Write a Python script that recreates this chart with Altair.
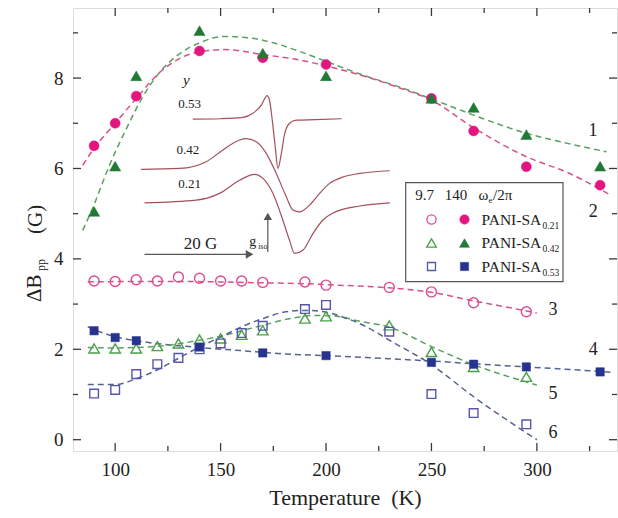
import altair as alt
import pandas as pd

# ---------------- measured line widths ----------------
# temperatures (K)
T_140 = [90, 100, 110, 140, 170, 200, 250, 270, 295, 330]
T_97 = [90, 100, 110, 120, 130, 140, 150, 160, 170, 190, 200, 230, 250, 270, 295]

# ΔB_pp (G) at 140 GHz (filled symbols)
dB140_021 = [6.50, 7.00, 7.60, 8.60, 8.45, 8.30, 7.55, 6.83, 6.04, 5.63]
dB140_042 = [5.05, 6.05, 8.05, 9.05, 8.55, 8.05, 7.55, 7.35, 6.75, 6.05]
dB140_053 = [2.41, 2.26, 2.19, 2.05, 1.92, 1.86, 1.71, 1.67, 1.61, 1.50]

# ΔB_pp (G) at 9.7 GHz (open symbols)
dB97_021 = [3.51, 3.50, 3.54, 3.51, 3.60, 3.57, 3.51, 3.51, 3.48, 3.49, 3.42, 3.37, 3.27, 3.03, 2.83]
dB97_042 = [2.02, 2.02, 2.02, 2.07, 2.13, 2.22, 2.24, 2.32, 2.42, 2.68, 2.73, 2.53, 1.94, 1.61, 1.39]
dB97_053 = [1.02, 1.10, 1.45, 1.67, 1.81, 2.00, 2.13, 2.36, 2.52, 2.89, 2.98, 2.39, 1.01, 0.59, 0.34]

# ---------------- fitted curves 1-6 ----------------
fit1_T = [84.6, 90, 97, 105, 113, 121, 130, 140, 152, 165, 175, 185, 200, 216, 235, 250, 270, 295, 315, 333]
fit1_v = [4.63, 5.20, 6.04, 6.85, 7.58, 8.12, 8.52, 8.78, 8.92, 8.88, 8.78, 8.63, 8.37, 8.09, 7.80, 7.54, 7.18, 6.78, 6.55, 6.37]

fit2_T = [84.6, 90, 100, 110, 121, 130, 140, 152, 170, 185, 200, 219, 235, 250, 270, 295, 315, 335]
fit2_v = [6.07, 6.45, 7.00, 7.55, 8.12, 8.42, 8.58, 8.63, 8.52, 8.42, 8.27, 8.03, 7.78, 7.51, 6.90, 6.26, 5.90, 5.41]

fit3_T = [87, 110, 130, 150, 170, 190, 200, 215, 230, 250, 270, 285, 300]
fit3_v = [3.49, 3.50, 3.50, 3.49, 3.47, 3.45, 3.43, 3.40, 3.36, 3.26, 3.07, 2.94, 2.80]

fit4_T = [87, 95, 100, 110, 125, 140, 160, 180, 200, 230, 250, 270, 295, 320, 336]
fit4_v = [2.50, 2.35, 2.28, 2.19, 2.10, 2.04, 1.97, 1.90, 1.86, 1.79, 1.74, 1.68, 1.61, 1.54, 1.49]

fit5_T = [87, 100, 121, 140, 150, 160, 170, 184, 195, 205, 216, 230, 250, 270, 300]
fit5_v = [2.04, 2.03, 2.07, 2.20, 2.29, 2.41, 2.53, 2.69, 2.75, 2.73, 2.62, 2.49, 2.06, 1.66, 1.21]

fit6_T = [87, 100, 110, 121, 130, 140, 150, 160, 170, 181, 190, 200, 210, 219, 230, 250, 270, 300]
fit6_v = [1.22, 1.22, 1.35, 1.57, 1.80, 2.05, 2.27, 2.50, 2.68, 2.83, 2.86, 2.82, 2.68, 2.50, 2.20, 1.66, 0.95, 0.00]

# ---------------- inset EPR spectra (drawn in the main chart's units) ----------------
spec053_T = [136.8, 150.0, 160.6, 165.3, 169.3, 171.0, 172.0, 173.2, 174.5, 175.9, 177.2, 178.8, 180.4, 182.7, 185.9, 195.0, 207.4]
spec053_v = [7.09, 7.10, 7.13, 7.22, 7.40, 7.55, 7.61, 7.51, 7.07, 6.48, 6.00, 6.33, 6.77, 7.00, 7.07, 7.08, 7.10]

spec042_T = [112.3, 130.5, 143.2, 151.1, 159.0, 162.2, 166.9, 171.7, 176.4, 181.2, 184.3, 187.5, 192.2, 197.0, 201.7, 207.9, 216.0, 230.2]
spec042_v = [5.98, 6.00, 6.15, 6.41, 6.63, 6.66, 6.59, 6.33, 5.89, 5.37, 5.08, 5.04, 5.19, 5.45, 5.67, 5.81, 5.89, 5.95]

spec021_T = [113.9, 138.4, 149.5, 159.0, 166.1, 170.1, 174.8, 179.5, 182.7, 185.1, 189.0, 193.8, 198.5, 203.1, 216.0, 230.2]
spec021_v = [5.24, 5.30, 5.45, 5.74, 5.87, 5.78, 5.45, 4.86, 4.41, 4.12, 4.19, 4.56, 4.86, 5.01, 5.17, 5.24]

# ---------------- styling ----------------
SERIF = "Liberation Serif"
INK = "#222222"
FRAME = "#3a3a3a"
W, H = 544, 443

PINK_F, GREEN_F, BLUE_F = "#E3157E", "#1F7A35", "#26348F"
PINK_O, GREEN_O, BLUE_O = "#DD4C92", "#4AA04A", "#5656AC"
PINK_D, GREEN_D, BLUE_D = "#D9508B", "#5AA060", "#55638F"
SPEC = "#A3505C"

xs = alt.Scale(domain=[80, 338], nice=False, zero=False)
ys = alt.Scale(domain=[-0.25, 9.55], nice=False, zero=False)

x_axis = alt.Axis(values=[100, 150, 200, 250, 300], ticks=False, domain=False, grid=False,
                  labelFont=SERIF, labelFontSize=19, labelColor=INK, labelPadding=9,
                  title="Temperature\u00a0 (K)", titleFont=SERIF, titleFontSize=22,
                  titleFontWeight="normal", titleColor=INK, titlePadding=8)
y_axis = alt.Axis(values=[0, 2, 4, 6, 8], ticks=False, domain=False, grid=False,
                  labelFont=SERIF, labelFontSize=19, labelColor=INK, labelPadding=10,
                  title=None)


def X(field="T"):
    return alt.X(f"{field}:Q", scale=xs, axis=x_axis)


def Y(field="v"):
    return alt.Y(f"{field}:Q", scale=ys, axis=y_axis)


def frame(T, v):
    return pd.DataFrame({"T": T, "v": v})


def curve(T, v, color, dash=(6, 4), width=1.5):
    return alt.Chart(frame(T, v)).mark_line(
        color=color, strokeWidth=width, strokeDash=list(dash), interpolate="monotone"
    ).encode(x=X(), y=Y())


def spectrum(T, v):
    return alt.Chart(frame(T, v)).mark_line(
        color=SPEC, strokeWidth=1.2, interpolate="monotone"
    ).encode(x=X(), y=Y())


def points(T, v, shape, color, filled, size):
    kw = dict(shape=shape, size=size, opacity=1)
    if filled:
        kw.update(filled=True, fill=color, stroke=color, strokeWidth=0.5)
    else:
        kw.update(filled=False, stroke=color, strokeWidth=1.4)
    return alt.Chart(frame(T, v)).mark_point(**kw).encode(x=X(), y=Y())


def note(T, v, s, size, **kw):
    df = pd.DataFrame({"T": [T], "v": [v], "s": [s]})
    return alt.Chart(df).mark_text(font=SERIF, fontSize=size, color=kw.pop("color", INK), **kw).encode(
        x=X(), y=Y(), text="s:N")


ONE = pd.DataFrame({"k": [0]})


def px_text(s, x, y, size, **kw):
    return alt.Chart(ONE).mark_text(text=s, font=SERIF, fontSize=size,
                                    color=kw.pop("color", INK), **kw).encode(
        x=alt.value(x), y=alt.value(y))


def px_symbol(x, y, shape, color, filled, size):
    kw = dict(shape=shape, size=size, opacity=1)
    if filled:
        kw.update(filled=True, fill=color, stroke=color, strokeWidth=0.5)
    else:
        kw.update(filled=False, stroke=color, strokeWidth=1.3)
    return alt.Chart(ONE).mark_point(**kw).encode(x=alt.value(x), y=alt.value(y))


# ---------------- inward tick marks on all four sides ----------------
def xticks(values, length):
    df = pd.DataFrame({"T": values})
    base = alt.Chart(df).mark_rule(color=FRAME, strokeWidth=1.3)
    return [base.encode(x=X(), y=alt.value(H), y2=alt.value(H - length)),
            base.encode(x=X(), y=alt.value(0), y2=alt.value(length))]


def yticks(values, length):
    df = pd.DataFrame({"v": values})
    base = alt.Chart(df).mark_rule(color=FRAME, strokeWidth=1.3)
    return [base.encode(y=Y(), x=alt.value(0), x2=alt.value(length)),
            base.encode(y=Y(), x=alt.value(W), x2=alt.value(W - length))]


ticks = (xticks([100, 150, 200, 250, 300], 8) + xticks([125, 175, 225, 275, 325], 5)
         + yticks([0, 2, 4, 6, 8], 8) + yticks([1, 3, 5, 7, 9], 5))

# ---------------- layers ----------------
fits = [
    curve(fit1_T, fit1_v, GREEN_D),
    curve(fit2_T, fit2_v, PINK_D),
    curve(fit3_T, fit3_v, PINK_D),
    curve(fit4_T, fit4_v, BLUE_D),
    curve(fit5_T, fit5_v, GREEN_D),
    curve(fit6_T, fit6_v, BLUE_D),
]

spectra = [
    spectrum(spec053_T, spec053_v),
    spectrum(spec042_T, spec042_v),
    spectrum(spec021_T, spec021_v),
]

# field-scale arrow (20 G) and g_iso marker of the inset
arrow20 = alt.Chart(ONE).mark_rule(color="#555555", strokeWidth=1.2).encode(
    x=alt.datum(113.9, scale=xs), x2=alt.datum(163.0), y=alt.datum(4.10, scale=ys))
arrow20_head = alt.Chart(ONE).mark_point(shape="triangle-right", filled=True, fill="#555555",
                                          stroke="#555555", size=28, opacity=1).encode(
    x=alt.datum(163.5, scale=xs), y=alt.datum(4.10, scale=ys))
giso = alt.Chart(ONE).mark_rule(color="#555555", strokeWidth=1.2).encode(
    x=alt.datum(172.4, scale=xs), y=alt.datum(4.15, scale=ys), y2=alt.datum(4.90))
giso_head = alt.Chart(ONE).mark_point(shape="triangle-up", filled=True, fill="#555555",
                                       stroke="#555555", size=24, opacity=1).encode(
    x=alt.datum(172.4, scale=xs), y=alt.datum(4.93, scale=ys))

inset_text = [
    note(133.7, 7.95, "y", 15, fontStyle="italic"),
    note(135.3, 7.42, "0.53", 13),
    note(134.5, 6.40, "0.42", 13),
    note(135.3, 5.65, "0.21", 13),
    note(140.5, 4.34, "20 G", 17),
    note(165.3, 4.37, "g", 14),
    note(167.8, 4.27, "iso", 8, align="left"),
]

marks = [
    points(T_97, dB97_021, "circle", PINK_O, False, 100),
    points(T_97, dB97_042, "triangle-up", GREEN_O, False, 110),
    points(T_97, dB97_053, "square", BLUE_O, False, 75),
    points(T_140, dB140_021, "circle", PINK_F, True, 100),
    points(T_140, dB140_042, "triangle-up", GREEN_F, True, 125),
    points(T_140, dB140_053, "square", BLUE_F, True, 70),
]

curve_labels = [
    note(326.6, 6.82, "1", 18),
    note(326.7, 5.04, "2", 18),
    note(307.7, 2.87, "3", 18),
    note(326.7, 1.98, "4", 18),
    note(307.7, 1.02, "5", 18),
    note(307.7, 0.14, "6", 18),
]

# ---------------- legend box ----------------
legend_box = alt.Chart(ONE).mark_rect(fill="white", stroke="#555555", strokeWidth=1.2).encode(
    x=alt.value(332.7), x2=alt.value(490), y=alt.value(174.7), y2=alt.value(273.7))

rows_y = [211.5, 235.0, 258.5]
legend = [legend_box,
          px_text("9.7", 351.5, 186.5, 15),
          px_text("140", 383.0, 186.5, 15),
          px_text("\u03c9", 405.5, 186.5, 15, align="left"),
          px_text("e", 415.5, 191.5, 9, align="left"),
          px_text("/2\u03c0", 420.0, 186.5, 15, align="left")]
for yy, shape, co, cf, sub, so in zip(rows_y,
                                      ["circle", "triangle-up", "square"],
                                      [PINK_O, GREEN_O, BLUE_O],
                                      [PINK_F, GREEN_F, BLUE_F],
                                      ["0.21", "0.42", "0.53"],
                                      [100, 110, 75]):
    legend += [px_symbol(358.5, yy, shape, co, False, so * 0.85),
               px_symbol(391.5, yy, shape, cf, True, so * 0.9),
               px_text("PANI-SA", 408.5, yy, 15.5, align="left"),
               px_text(sub, 469.5, yy + 6, 9.5, align="left")]

# ---------------- y-axis title built from pieces (subscript pp) ----------------
ytitle = [
    px_text("\u0394B", -37.8, 294, 21, angle=270, align="left", baseline="middle"),
    px_text("pp", -31.6, 263, 12, angle=270, align="left", baseline="middle"),
    px_text("(G)", -37.3, 226, 21, angle=270, align="left", baseline="middle"),
]

chart = alt.layer(
    *fits, *spectra, arrow20, arrow20_head, giso, giso_head, *inset_text,
    *marks, *curve_labels, *legend, *ticks, *ytitle
).properties(
    width=W, height=H,
    autosize=alt.AutoSizeParams(type="none"),
    padding={"left": 73, "top": 8, "right": 1, "bottom": 67},
).configure_view(stroke=FRAME, strokeWidth=1.5).configure(background="white")

chart.save("out.html", embed_options={"renderer": "svg", "actions": False})
